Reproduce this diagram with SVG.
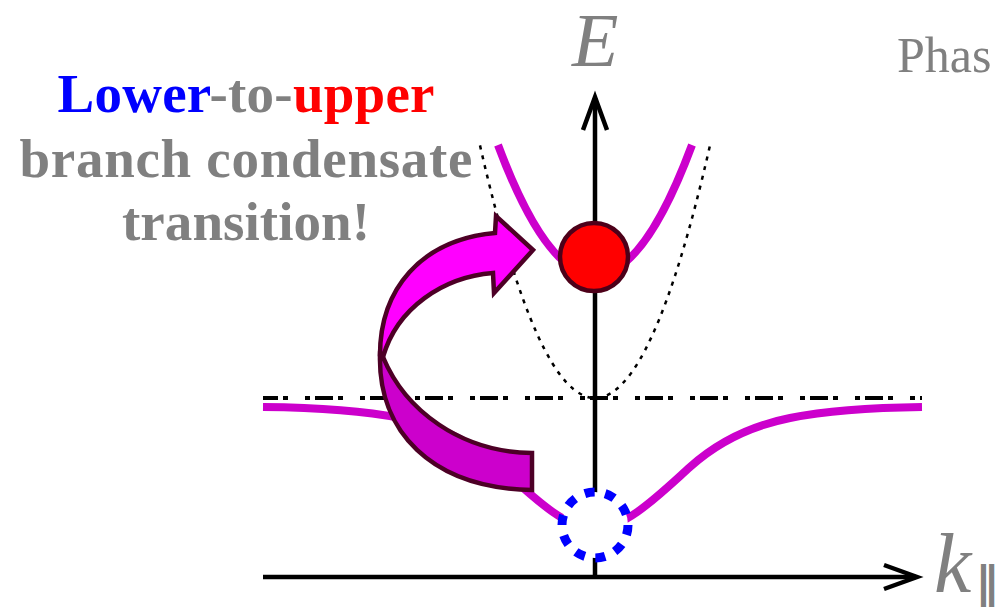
<svg xmlns="http://www.w3.org/2000/svg" width="1000" height="613" viewBox="0 0 1000 613">
  <style>
    .lbl { font-family: "Liberation Serif", "Times New Roman", serif; }
    .head { font-family: "Liberation Serif", "Times New Roman", serif; font-weight: bold; font-size: 55px; text-anchor: middle; }
    .gray { fill: #808080; }
    .branch { fill: none; stroke: #cc00cc; stroke-width: 8; }
    .axis { fill: none; stroke: #000; stroke-width: 4.5; }
    .arrowbody { stroke: #4d0026; stroke-width: 4.5; stroke-linejoin: miter; }
  </style>
  <rect width="1000" height="613" fill="#fff"/>

  <g id="title">
    <text class="head" x="246" y="112" textLength="377" lengthAdjust="spacing"><tspan fill="#0000ff">Lower</tspan><tspan fill="#808080">-to-</tspan><tspan fill="#ff0000">upper</tspan></text>
    <text class="head gray" x="246" y="177" textLength="453" lengthAdjust="spacing">branch condensate</text>
    <text class="head gray" x="246" y="240" textLength="248" lengthAdjust="spacing">transition!</text>
  </g>
  <g id="phase-label">
    <text class="lbl gray" x="897" y="72" font-size="50">Phas</text>
  </g>

  <g id="connectors">
    <!-- exciton level (dash-dot) -->
    <line x1="263" y1="398" x2="922" y2="398" stroke="#000" stroke-width="4" stroke-dasharray="5 5 18 5 5 17" stroke-dashoffset="13"/>
    <!-- bare cavity photon dispersion (dotted) -->
    <path d="M 480,145.4 Q 595,650.6 710,145.4" fill="none" stroke="#000" stroke-width="2.5" stroke-dasharray="4 6"/>
    <!-- lower polariton branch -->
    <path class="branch" d="M 263,407 C 310,407.5 360,410 400,418 C 435,425 470,440 500,467 C 530,494 565,529 595,529 C 625,529 660,494 690,467 C 720,440 755,425 790,418 C 830,410 880,407.5 922,407"/>
    <!-- upper polariton branch -->
    <path class="branch" d="M 498,145 Q 595,405 692,145"/>
    <!-- axes -->
    <line class="axis" x1="595" y1="577" x2="595" y2="98"/>
    <polyline class="axis" points="583,130 595,97 607,130"/>
    <line class="axis" x1="263" y1="577" x2="916" y2="577"/>
    <polyline class="axis" points="884,565 917,577 884,589"/>
  </g>

  <g id="upper-condensate">
    <circle cx="594" cy="257" r="34" fill="#ff0000" stroke="#4d0019" stroke-width="4.5"/>
  </g>
  <g id="lower-condensate">
    <circle cx="595" cy="525" r="33" fill="#fff" stroke="#0000ff" stroke-width="9" stroke-dasharray="10 10.7"/>
  </g>

  <g id="transition-arrow">
    <path class="arrowbody" fill="#cc00cc" d="M 380,355 C 378,430 430,488 532,490 L 532,453 C 460,452 405,410 383,357 Z"/>
    <path class="arrowbody" fill="#ff00ff" d="M 380,355 C 380,290 420,240 495,233 L 496,216 L 533,250 L 494,293 L 493,273 C 443,277 397,308 383,357 Z"/>
  </g>

  <g id="axis-labels">
    <text class="lbl gray" x="572" y="66" font-size="76" font-style="italic">E</text>
    <text class="lbl gray" x="934" y="592" font-size="84" font-style="italic">k</text>
    <text x="976" y="598" font-size="44" fill="#808080" font-family="DejaVu Sans, sans-serif" font-weight="bold">∥</text>
  </g>
</svg>
